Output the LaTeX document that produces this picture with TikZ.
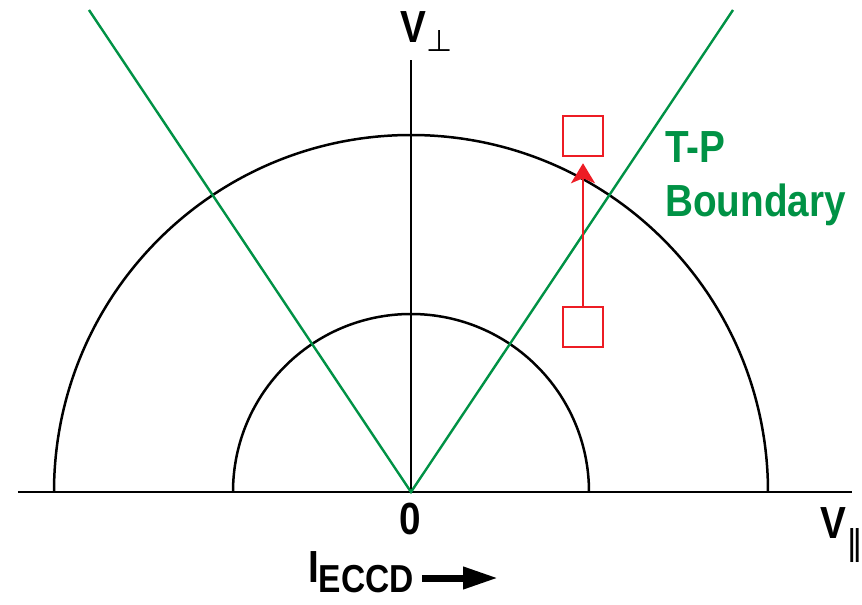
\documentclass[tikz,border=0pt]{standalone}
\usepackage{fontspec}
\setmainfont[FakeStretch=0.86]{Liberation Sans}
\newfontfamily\dvsym{DejaVu Sans}
\usetikzlibrary{arrows.meta}
\definecolor{tpgreen}{RGB}{0,146,69}
\definecolor{tpred}{RGB}{237,28,36}
\begin{document}
\begin{tikzpicture}[x=1pt,y=1pt,
    lbl/.style={font=\fontsize{45}{54}\selectfont\bfseries,inner sep=0pt},
    box/.style={draw=tpred,line width=2.5pt,minimum width=40pt,minimum height=40pt,inner sep=0pt}]
    \useasboundingbox (-411,-113) rectangle (451,492);
    % axes
    \draw[line width=2.7pt] (-393,0) -- (441,0);
    \draw[line width=2.7pt] (0,0) -- (0,432);
    % velocity semicircles
    \draw[line width=2.5pt] (357,0) arc[start angle=0,end angle=180,radius=357];
    \draw[line width=2.5pt] (178,0) arc[start angle=0,end angle=180,radius=178];
    % trapped-passing boundary
    \draw[tpgreen,line width=2.4pt] (-322,482) -- (0,0) -- (322,482);
    % squares and kick
    \node[box] (hi) at (172,356) {};
    \node[box] (lo) at (172,165) {};
    \draw[tpred,line width=2.2pt,shorten >=6pt,
        -{Stealth[length=20pt,width=24pt,inset=5pt]}] (lo) -- (hi);
    % labels
    \node[lbl,anchor=base west] (vperp) at (-11,449)
        {V\raisebox{-9pt}{\fontsize{30}{30}\dvsym\mdseries ⊥}};
    \node[lbl,anchor=base west,text=tpgreen,align=left] (tp) at (254,275) {T-P\\Boundary};
    \node[lbl,anchor=base] (zero) at (-1,-42) {0};
    \node[lbl,anchor=base west] (vpar) at (409,-46)
        {V\raisebox{-16pt}{\fontsize{34}{34}\dvsym\mdseries ‖}};
    \node[lbl,anchor=base west] (iec) at (-103,-90)
        {I\raisebox{-10pt}{\fontsize{39}{44}\selectfont ECCD}};
    \coordinate (iend) at (87,-86);
    \draw[line width=7pt,-{Triangle[length=35pt,width=21pt]}]
        ([xshift=8pt]iec.east |- iend) -- (iend);
\end{tikzpicture}
\end{document}
